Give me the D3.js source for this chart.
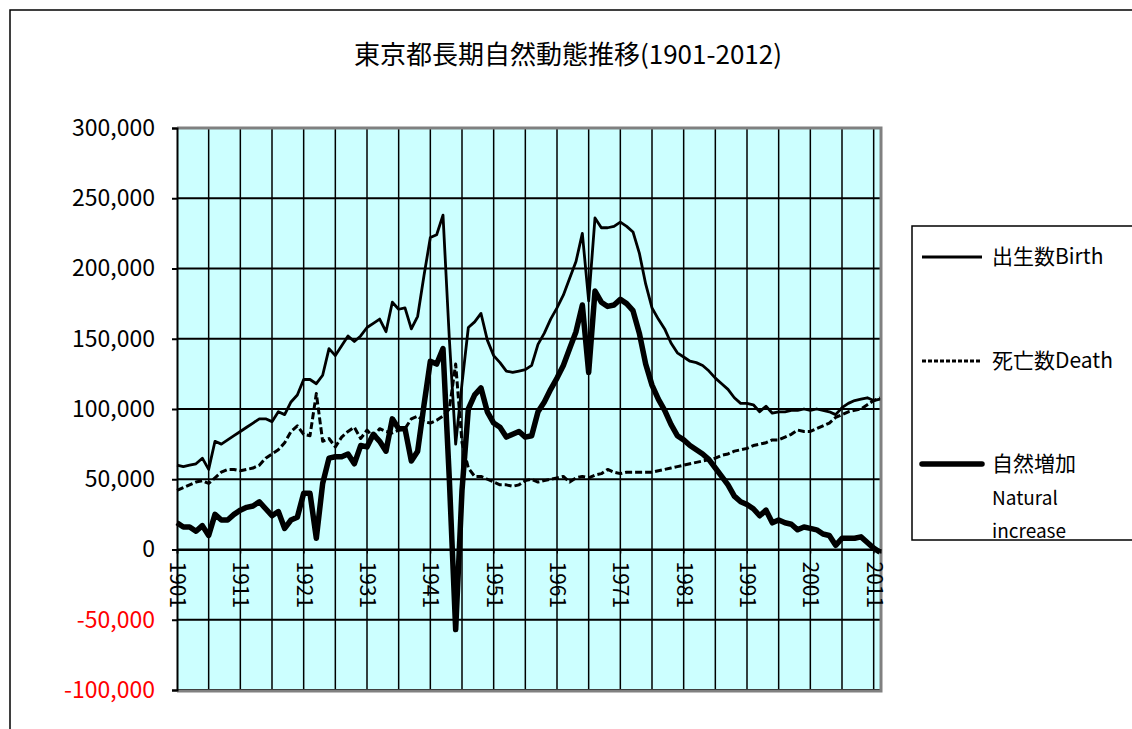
<!DOCTYPE html>
<html lang="ja">
<head>
<meta charset="UTF-8">
<title>東京都長期自然動態推移</title>
<style>
  body { margin: 0; background: #fff; }
  svg text { font-family: "Noto Sans CJK JP", "Liberation Sans", sans-serif; }
</style>
</head>
<body>
<div id="chart"></div>
<script src="https://cdn.jsdelivr.net/npm/d3@7"></script>
<script>
// values in thousands of people, one per year 1901..2012
const firstYear = 1901, lastYear = 2012;
const years = d3.range(firstYear, lastYear + 1);

const birth = [
  60, 59, 60, 61, 65, 57, 77, 75, 78, 81,
  84, 87, 90, 93, 93, 91, 98, 96, 105, 110,
  121, 121, 118, 124, 143, 138, 145, 152, 148, 152,
  158, 161, 164, 155, 176, 171, 172, 157, 166, 195,
  222, 224, 238, 150, 75, 118, 158, 162, 168, 149,
  138, 133, 127, 126, 127, 128, 131, 146, 154, 164,
  172, 181, 193, 205, 225, 177, 236, 229, 229, 230,
  233, 230, 226, 211, 189, 172, 164, 157, 147, 140,
  137, 134, 133, 131, 127, 122, 118, 114, 108, 104,
  104, 103, 98, 102, 97, 98, 98, 99, 99, 100,
  99, 100, 99, 98, 96, 101, 104, 106, 107, 108,
  106, 107
];

const death = [
  42, 44, 46, 48, 49, 47, 51, 55, 57, 57,
  56, 57, 58, 60, 65, 68, 71, 76, 84, 88,
  82, 81, 111, 77, 79, 73, 80, 84, 87, 79,
  85, 80, 86, 84, 83, 85, 86, 93, 95, 91,
  90, 92, 95, 100, 132, 76, 58, 52, 52, 50,
  48, 46, 46, 45, 46, 49, 50, 48, 49, 50,
  51, 52, 48, 51, 52, 51, 53, 54, 57, 55,
  54, 55, 55, 55, 55, 55, 56, 57, 58, 59,
  60, 61, 62, 63, 64, 65, 67, 68, 70, 71,
  72, 74, 75, 76, 78, 78, 80, 82, 85, 84,
  84, 86, 88, 90, 94, 96, 98, 99, 100, 103,
  106, 108
];

const natural = [
  19, 16, 16, 13, 17, 10, 25, 21, 21, 25,
  28, 30, 31, 34, 29, 24, 27, 15, 21, 23,
  40, 40, 8, 47, 65, 66, 66, 68, 61, 74,
  73, 82, 77, 70, 93, 86, 86, 63, 70, 103,
  134, 132, 143, 50, -57, 42, 100, 110, 115, 98,
  90, 87, 80, 82, 84, 80, 81, 98, 105, 114,
  122, 131, 143, 155, 174, 126, 184, 176, 173, 174,
  178, 175, 170, 154, 132, 117, 107, 99, 89, 81,
  78, 74, 71, 68, 64, 58, 52, 46, 38, 34,
  32, 29, 24, 28, 19, 21, 19, 18, 14, 16,
  15, 14, 11, 10, 3, 8, 8, 8, 9, 5,
  1, -2
];

const yTicks = [-100000, -50000, 0, 50000, 100000, 150000, 200000, 250000, 300000];
const xLabelYears = [1901, 1911, 1921, 1931, 1941, 1951, 1961, 1971, 1981, 1991, 2001, 2011];
const gridYears = d3.range(1901, 2012, 5);

const title = "東京都長期自然動態推移(1901-2012)";
const legendItems = [
  { name: ["出生数Birth"], values: birth, width: 2.8, dash: null },
  { name: ["死亡数Death"], values: death, width: 3, dash: "7,3" },
  { name: ["自然増加", "Natural", "increase"], values: natural, width: 5.5, dash: null }
];

const W = 1132, H = 729;
const plot = { left: 177, right: 880, top: 128, bottom: 690 };

const svg = d3.select("#chart").append("svg")
  .attr("width", W).attr("height", H);

// chart area border (runs off the right/bottom)
svg.append("path")
  .attr("d", `M10,${H + 5}V10H${W + 5}`)
  .attr("fill", "none").attr("stroke", "#000").attr("stroke-width", 1.5);

svg.append("text")
  .attr("x", 568).attr("y", 64)
  .attr("text-anchor", "middle")
  .style("font-size", "26px")
  .text(title);

const x = d3.scaleLinear().domain([firstYear, lastYear]).range([plot.left, plot.right]);
const y = d3.scaleLinear().domain([-100000, 300000]).range([plot.bottom, plot.top]);

// plot background
svg.append("rect")
  .attr("x", plot.left).attr("y", plot.top)
  .attr("width", plot.right - plot.left).attr("height", plot.bottom - plot.top)
  .attr("fill", "#CCFFFF");

// vertical grid every 5 years
svg.append("g").selectAll("line")
  .data(gridYears.slice(1))
  .join("line")
  .attr("x1", d => x(d)).attr("x2", d => x(d))
  .attr("y1", plot.top).attr("y2", plot.bottom)
  .attr("stroke", "#000").attr("stroke-width", 1.5);

// horizontal grid
svg.append("g").selectAll("line")
  .data(yTicks)
  .join("line")
  .attr("x1", plot.left).attr("x2", plot.right)
  .attr("y1", d => y(d)).attr("y2", d => y(d))
  .attr("stroke", "#000").attr("stroke-width", 2);

// gray frame top / right / bottom
svg.append("path")
  .attr("d", `M${plot.left},${plot.top}H${plot.right + 1}V${plot.bottom + 1}H${plot.left}`)
  .attr("fill", "none").attr("stroke", "#808080").attr("stroke-width", 3);

// y axis
const yAxis = svg.append("g")
  .attr("transform", `translate(${plot.left},0)`)
  .call(d3.axisLeft(y).tickValues(yTicks).tickSize(5).tickPadding(17)
    .tickFormat(d => (d < 0 ? "-" : "") + d3.format(",")(Math.abs(d))));
yAxis.select(".domain").attr("stroke", "#000").attr("stroke-width", 2);
yAxis.selectAll(".tick line").attr("stroke-width", 2);
yAxis.selectAll(".tick text")
  .style("font-size", "23px")
  .attr("fill", d => d < 0 ? "#FF0000" : "#000");

// x axis on the zero line
const xAxis = svg.append("g")
  .attr("transform", `translate(0,${y(0)})`)
  .call(d3.axisBottom(x).tickValues(xLabelYears).tickSize(4).tickFormat(d3.format("d")));
xAxis.select(".domain").attr("stroke", "#000").attr("stroke-width", 2);
xAxis.selectAll(".tick text")
  .attr("transform", "rotate(90)")
  .attr("x", 12).attr("y", 0).attr("dy", "0.35em")
  .attr("text-anchor", "start")
  .style("font-size", "21px");

// series lines
const line = d3.line()
  .x((d, i) => x(years[i]))
  .y(d => y(d * 1000));

legendItems.forEach(s => {
  svg.append("path")
    .datum(s.values)
    .attr("d", line)
    .attr("fill", "none")
    .attr("stroke", "#000")
    .attr("stroke-width", s.width)
    .attr("stroke-linejoin", "round")
    .attr("stroke-dasharray", s.dash);
});

// legend
const legend = svg.append("g");
legend.append("rect")
  .attr("x", 912).attr("y", 226).attr("width", 240).attr("height", 314)
  .attr("fill", "#fff").attr("stroke", "#000").attr("stroke-width", 1.5);

const legendY = [257, 361, 464];
legendItems.forEach((s, i) => {
  const ly = legendY[i];
  legend.append("line")
    .attr("x1", 922).attr("x2", 982).attr("y1", ly).attr("y2", ly)
    .attr("stroke", "#000").attr("stroke-width", s.width)
    .attr("stroke-linecap", s.width > 4 ? "round" : "butt")
    .attr("stroke-dasharray", s.dash ? "4,2" : null);
  s.name.forEach((t, j) => {
    legend.append("text")
      .attr("x", 992)
      .attr("y", j === 0 ? ly : ly + 1 + j * 33)
      .attr("dy", "0.35em")
      .style("font-size", j === 0 ? "21px" : "19px")
      .text(t);
  });
});
</script>
</body>
</html>
